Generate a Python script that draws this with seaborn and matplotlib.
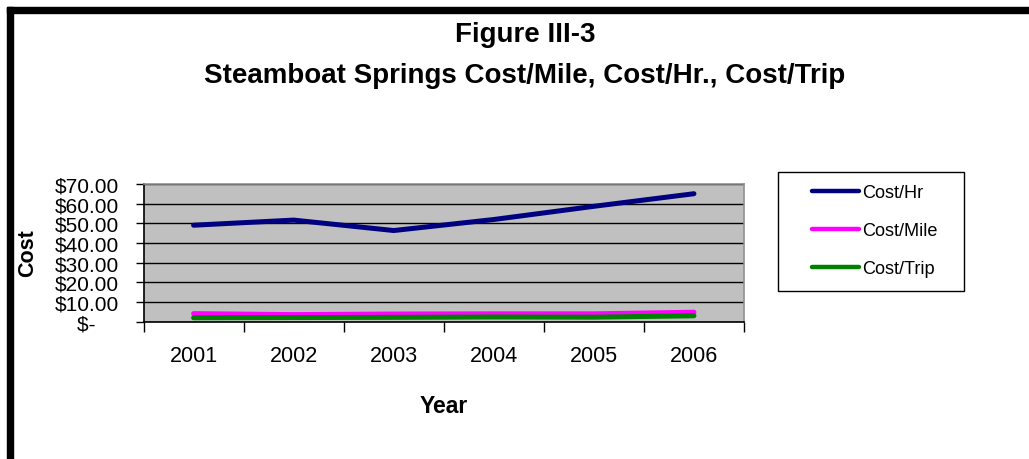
import pandas as pd
import matplotlib
matplotlib.use("Agg")
import matplotlib.pyplot as plt
import matplotlib.patches as patches
from matplotlib.ticker import FixedLocator
import seaborn as sns

# Chart values
years = ["2001", "2002", "2003", "2004", "2005", "2006"]
cost_hr = [49.0, 51.6, 46.3, 51.9, 58.6, 65.0]
cost_mile = [4.1, 3.6, 3.9, 4.0, 4.0, 4.8]
cost_trip = [2.0, 2.1, 2.2, 2.4, 2.3, 3.0]
series_names = ["Cost/Hr", "Cost/Mile", "Cost/Trip"]
series_colors = ["#000080", "#FF00FF", "#008000"]
y_ticks = [0, 10, 20, 30, 40, 50, 60, 70]
y_labels = ["$-    ", "$10.00", "$20.00", "$30.00", "$40.00", "$50.00", "$60.00", "$70.00"]

# Long form table for seaborn
df = pd.DataFrame({
    "Year": years * 3,
    "Cost": cost_hr + cost_mile + cost_trip,
    "Series": [series_names[0]] * 6 + [series_names[1]] * 6 + [series_names[2]] * 6,
})

sns.set_theme(style="white")
plt.rcParams["font.family"] = ["Liberation Sans", "DejaVu Sans"]
plt.rcParams["text.color"] = "black"
plt.rcParams["axes.labelcolor"] = "black"
plt.rcParams["xtick.color"] = "black"
plt.rcParams["ytick.color"] = "black"

W, H = 1029, 460
fig = plt.figure(figsize=(W / 100, H / 100), dpi=100)
ax = fig.add_axes([0.1395, 0.2985, 0.5835, 0.2996])
ax.set_facecolor("#C0C0C0")

sns.lineplot(data=df, x="Year", y="Cost", hue="Series", palette=series_colors,
             linewidth=3.6, ax=ax, sort=False, solid_capstyle="round")

ax.set_xlim(-0.5, 5.5)
ax.set_ylim(0, 70)

# y axis
ax.set_yticks(y_ticks)
ax.set_yticklabels(y_labels)
ax.tick_params(axis="y", length=6, width=1, direction="out",
               labelsize=15, pad=12, left=True)
ax.grid(axis="y", color="black", linewidth=1)
ax.grid(axis="x", visible=False)

# x axis: labels at centers, ticks at category boundaries
ax.set_xticks(range(len(years)))
ax.set_xticklabels(years)
ax.tick_params(axis="x", which="major", length=0, labelsize=15.5, pad=17)
ax.xaxis.set_minor_locator(FixedLocator([i - 0.5 for i in range(len(years) + 1)]))
ax.tick_params(axis="x", which="minor", length=7, width=1,
               direction="out", bottom=True)

for s in ["left", "bottom"]:
    ax.spines[s].set_color("black")
    ax.spines[s].set_linewidth(1.2)
for s in ["top", "right"]:
    ax.spines[s].set_color("#909090")
    ax.spines[s].set_linewidth(1.2)

ax.set_xlabel("Year", fontsize=16.5, fontweight="bold", labelpad=20)
ax.set_ylabel("")
fig.text(28 / W, 1 - 253 / H, "Cost", rotation=90, ha="center", va="center",
         fontsize=15.5, fontweight="bold")

# legend box drawn by hand behind the axes, entries placed inside it
fig.add_artist(patches.Rectangle((778 / W, 1 - 292 / H), 186 / W, 119 / H,
                                 transform=fig.transFigure, facecolor="white",
                                 edgecolor="black", linewidth=1, zorder=-1))
leg = ax.legend(loc="upper left", bbox_to_anchor=(803 / W, 1 - 176 / H),
                bbox_transform=fig.transFigure, frameon=False,
                fontsize=13.1, handlelength=2.6, handletextpad=0.15,
                labelspacing=1.15, borderpad=0)
for h in leg.get_lines():
    h.set_linewidth(3.2)
    h.set_solid_capstyle("round")

# titles
fig.text(525 / W, 1 - 35 / H, "Figure III-3", ha="center", va="center",
         fontsize=20, fontweight="bold")
fig.text(525 / W, 1 - 76 / H, "Steamboat Springs Cost/Mile, Cost/Hr., Cost/Trip",
         ha="center", va="center", fontsize=20, fontweight="bold")

# outer frame (top and left edges)
fig.add_artist(patches.Rectangle((7 / W, 0), 6 / W, 1 - 8 / H,
                                 transform=fig.transFigure, color="black"))
fig.add_artist(patches.Rectangle((7 / W, 1 - 14 / H), 1, 6 / H,
                                 transform=fig.transFigure, color="black"))

fig.savefig("out.png", dpi=100)
